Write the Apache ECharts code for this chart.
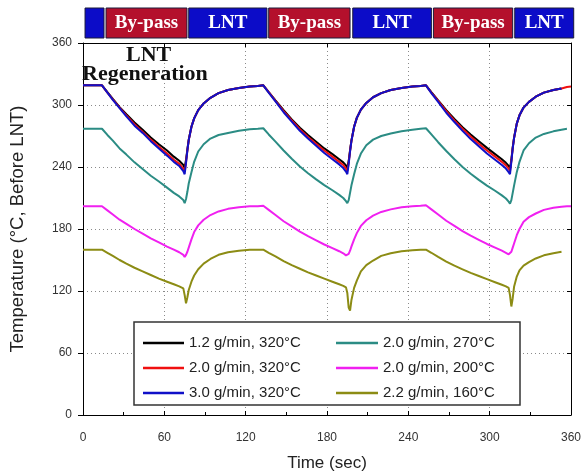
<!DOCTYPE html>
<html>
<head>
<meta charset="utf-8">
<script src="https://cdn.jsdelivr.net/npm/echarts@6/dist/echarts.min.js"></script>
<style>
html,body{margin:0;padding:0;background:#fff;}
#chart{width:588px;height:475px;}
</style>
</head>
<body>
<div id="chart"></div>
<script>
// ---- data ----
const times = [0, 7, 14, 18, 22, 27, 32, 38, 44, 50, 56, 62, 67, 71, 74, 75,
  76, 77, 78, 80, 82, 85, 89, 94, 100, 107, 115, 123, 129,
  133, 137, 142, 148, 154, 160, 166, 172, 178, 184, 189, 192, 194, 195,
  196, 197, 198, 200, 202, 205, 209, 214, 220, 227, 235, 243, 249,
  253, 257, 262, 268, 274, 280, 286, 292, 298, 304, 309, 312, 314, 315,
  316, 317, 318, 320, 322, 325, 329, 334, 340, 347, 353, 357, 360];

const black320 = [319, 319,
  319, 312.5, 306, 298, 291, 283, 276, 268.5, 262, 256, 250, 246, 242, 239,
  247, 257, 266.5, 279, 287, 295, 301.5, 307, 311.5, 314.5, 316.5, 318, 318.5,
  319, 312.5, 304.5, 295, 286, 278, 271, 264.5, 258, 252.5, 247.5, 244.5, 241.5, 239,
  246, 256, 265.5, 279, 287.5, 295.5, 302, 307.5, 311.5, 314.5, 316.5, 318, 318.5,
  319, 312.5, 304.5, 295, 286.5, 278.5, 271.5, 265, 258.5, 252.5, 247.5, 244, 241, 238.5,
  247, 259, 268.5, 282, 290, 297.5, 303, 308, 312, 314.5, 316, null, null];

const red320 = [319, 319,
  319, 312, 305.5, 297.5, 290, 281.5, 274, 266.5, 259.5, 253, 247, 243, 238.5, 235.5,
  245, 256, 266, 279, 287, 295, 301.5, 307, 311.5, 314.5, 316.5, 318, 318.5,
  319, 312.5, 304, 294, 285, 276.5, 269, 262.5, 256, 250, 245, 242, 238.5, 236,
  244, 255.5, 265, 279, 287.5, 295.5, 302, 307.5, 311.5, 314.5, 316.5, 318, 318.5,
  319, 312, 304, 294, 285, 277, 269.5, 262.5, 256, 250, 245, 241.5, 238.5, 236,
  246, 258.5, 268, 282, 290, 297.5, 303, 308, 312, 314.5, 316, 317.5, 318];

const blue320 = [319, 319,
  319, 312, 305, 297, 289, 280, 273, 265, 258, 251, 245, 241, 236, 233,
  244, 256, 266, 279, 287, 295, 301.5, 307, 311.5, 314.5, 316.5, 318, 318.5,
  319, 312, 303.5, 293, 284, 275, 267.5, 260.5, 253.5, 247.5, 242.5, 239, 235.5, 233,
  243, 255, 265, 279, 287.5, 295.5, 302, 307.5, 311.5, 314.5, 316.5, 318, 318.5,
  319, 311.5, 303, 292.5, 283.5, 275, 267, 260, 253, 247, 242, 238.5, 235, 233,
  245, 258, 268, 282, 290, 297.5, 303, 308, 312, 314.5, 316, null, null];

const teal270 = [277, 277,
  277, 271, 265.5, 258, 252, 244.5, 238, 231.5, 226, 220, 215, 211.5, 208, 205,
  209, 216, 224, 235, 245, 255, 262, 267.5, 271, 273, 275, 276.5, 277,
  277.5, 271.5, 264.5, 256, 248, 240.5, 234, 228, 222.5, 217.5, 213, 210, 207, 205,
  208, 215, 222, 233, 243, 253, 261, 266.5, 270, 272.5, 274.5, 276, 277,
  277.5, 271.5, 264, 255.5, 247.5, 240, 233.5, 227.5, 222, 217, 212.5, 209.5, 206.5, 204.5,
  208, 215, 222, 235, 245, 256, 263, 268.5, 272, 274.5, 276, 277, null];

const magenta200 = [202, 202,
  202, 198, 194, 189, 185, 180, 175.5, 171, 167, 163, 160, 157.5, 155, 153,
  155, 158, 162, 170, 177, 183.5, 189, 193.5, 197, 199.5, 201, 202, 202,
  202.5, 198.5, 193.5, 187.5, 182.5, 177.5, 173, 169, 165, 161.5, 158.5, 156.5, 154.5, 153.5,
  156, 159, 163, 170, 176, 183, 188.5, 193, 196.5, 199, 201, 202, 202.5,
  203, 199, 194, 188, 183, 178, 173.5, 169.5, 165.5, 162, 159, 157, 155.5, 154.5,
  158, 162, 166, 174, 180, 187, 191.5, 195, 198.5, 200.5, 201.5, 202, 202];

const olive160 = [160, 160,
  160, 157, 154, 150, 146.5, 142.5, 139, 135.5, 132, 129, 126.5, 124.5, 122.5, 116,
  108, 114, 121, 129, 135, 141, 146.5, 151, 155, 157.5, 159, 160, 160,
  160, 157, 153.5, 149, 145, 141.5, 138, 135, 132, 129, 126.5, 125, 123.5, 118,
  104, 101, 111, 123, 130, 139, 145, 149.5, 154, 156.5, 158.5, 159.5, 160,
  160, 157, 153, 148.5, 144.5, 141, 137.5, 134.5, 131.5, 128.5, 126, 124.5, 123, 116,
  105, 113, 124, 134, 140, 144.5, 148, 151.5, 154.5, 156.5, 158, null, null];

const seriesNames = ['1.2 g/min, 320°C', '2.0 g/min, 320°C', '3.0 g/min, 320°C',
  '2.0 g/min, 270°C', '2.0 g/min, 200°C', '2.2 g/min, 160°C'];

// phase band on top
const bandStart = [1.5, 17, 78, 137, 199, 258.5, 318.5];
const bandEnd   = [15.5, 76.7, 135.7, 197, 257, 317, 362];
const bandLabel = ['', 'By-pass', 'LNT', 'By-pass', 'LNT', 'By-pass', 'LNT'];
const bandKind  = [0, 1, 0, 1, 0, 1, 0]; // 0 = LNT (blue), 1 = by-pass (red)

const xTicks = [0, 60, 120, 180, 240, 300, 360];
const yTicks = [0, 60, 120, 180, 240, 300, 360];

// ---- chart ----
const chart = echarts.init(document.getElementById('chart'), null, {renderer: 'canvas'});

function pairs(vals) { return times.map((t, i) => [t, vals[i]]); }

const colors = ['#000000', '#f01010', '#1010c8', '#2b8c84', '#f020f0', '#8c8c14'];
const valueSets = [black320, red320, blue320, teal270, magenta200, olive160];

const lineSeries = valueSets.map((v, i) => ({
  name: seriesNames[i],
  type: 'line',
  xAxisIndex: 0, yAxisIndex: 0,
  data: pairs(v),
  showSymbol: false,
  symbol: 'none',
  lineStyle: {color: colors[i], width: 2},
  itemStyle: {color: colors[i]},
  z: 3 + i,
  animation: false
}));

const axisFont = {fontFamily: 'Liberation Sans, Arial, sans-serif', fontSize: 12, color: '#333'};
const gridLine = {show: true, lineStyle: {color: '#8a8a8a', type: [1, 3], width: 1}};
const legendText = {fontFamily: 'Liberation Sans, Arial, sans-serif', fontSize: 15, color: '#222', lineHeight: 18};

const option = {
  backgroundColor: '#fff',
  animation: false,
  grid: [
    {left: 83, right: 17, top: 43, bottom: 60, show: false, containLabel: false, outerBoundsMode: 'none'},
    {left: 83, right: 17, top: 8, height: 30, show: false, containLabel: false, outerBoundsMode: 'none'}
  ],
  xAxis: [
    {type: 'value', gridIndex: 0, min: 0, max: 360, interval: 60, position: 'bottom',
     name: 'Time (sec)', nameLocation: 'middle', nameGap: 40,
     nameTextStyle: {fontFamily: 'Liberation Sans, Arial, sans-serif', fontSize: 17, color: '#222'},
     axisLine: {show: true, onZero: false, lineStyle: {color: '#000', width: 1}},
     axisTick: {show: true, inside: true, length: 4, lineStyle: {color: '#000'}},
     minorTick: {show: true, splitNumber: 2, length: 3, lineStyle: {color: '#000'}},
     axisLabel: Object.assign({margin: 17, formatter: v => xTicks.includes(v) ? String(v) : ''}, axisFont),
     splitLine: gridLine},
    {type: 'value', gridIndex: 0, min: 0, max: 360, interval: 60, position: 'top',
     axisLine: {show: true, onZero: false, lineStyle: {color: '#000', width: 1}},
     axisTick: {show: true, inside: true, length: 4, lineStyle: {color: '#000'}},
     axisLabel: {show: false}, splitLine: {show: false}},
    {type: 'value', gridIndex: 1, min: 0, max: 360, show: false}
  ],
  yAxis: [
    {type: 'value', gridIndex: 0, min: 0, max: 360, interval: 60, position: 'left',
     name: 'Temperature (°C, Before LNT)', nameLocation: 'middle', nameGap: 56,
     nameTextStyle: {fontFamily: 'Liberation Sans, Arial, sans-serif', fontSize: 18.5, color: '#222'},
     axisLine: {show: true, onZero: false, lineStyle: {color: '#000', width: 1}},
     axisTick: {show: true, inside: false, length: 5, lineStyle: {color: '#000'}},
     axisLabel: Object.assign({margin: 11, formatter: v => yTicks.includes(v) ? String(v) : ''}, axisFont),
     splitLine: gridLine},
    {type: 'value', gridIndex: 0, min: 0, max: 360, interval: 60, position: 'right',
     axisLine: {show: true, onZero: false, lineStyle: {color: '#000', width: 1}},
     axisTick: {show: true, inside: true, length: 4, lineStyle: {color: '#000'}},
     axisLabel: {show: false}, splitLine: {show: false}},
    {type: 'value', gridIndex: 1, min: 0, max: 1, show: false}
  ],
  legend: [
    {data: seriesNames.slice(0, 3), orient: 'vertical', left: 143, top: 334, itemGap: 7,
     icon: 'rect', itemWidth: 41, itemHeight: 2.5, padding: 0, z: 20, textStyle: legendText},
    {data: seriesNames.slice(3), orient: 'vertical', left: 336, top: 334, itemGap: 7,
     icon: 'rect', itemWidth: 42, itemHeight: 2.5, padding: 0, z: 20, textStyle: legendText}
  ],
  graphic: [
    {type: 'rect', z: 15, shape: {x: 134, y: 322, width: 386, height: 83},
     style: {fill: '#fff', stroke: '#333', lineWidth: 1.5}},
    {type: 'text', z: 30, left: 126, top: 44,
     style: {text: 'LNT', font: 'bold 22px "Liberation Serif", "Times New Roman", serif', fill: '#111'}},
    {type: 'text', z: 30, left: 82, top: 63,
     style: {text: 'Regeneration', font: 'bold 22px "Liberation Serif", "Times New Roman", serif', fill: '#111'}}
  ],
  series: lineSeries.concat([{
    type: 'custom',
    xAxisIndex: 2, yAxisIndex: 2,
    clip: false,
    silent: true,
    data: bandStart.map((s, i) => [s, bandEnd[i], i]),
    renderItem: function (params, api) {
      const i = params.dataIndex;
      const p0 = api.coord([api.value(0), 0]);
      const p1 = api.coord([api.value(1), 1]);
      return {
        type: 'rect',
        shape: {x: p0[0], y: p1[1], width: p1[0] - p0[0], height: p0[1] - p1[1]},
        style: {fill: bandKind[i] ? '#b4102c' : '#0c0cc8', stroke: '#1a1a3a', lineWidth: 1},
        textContent: {style: {text: bandLabel[i], fill: '#fff',
          font: 'bold 19px "Liberation Serif", "Times New Roman", serif'}},
        textConfig: {position: 'inside'}
      };
    }
  }])
};
chart.setOption(option);
</script>
</body>
</html>
